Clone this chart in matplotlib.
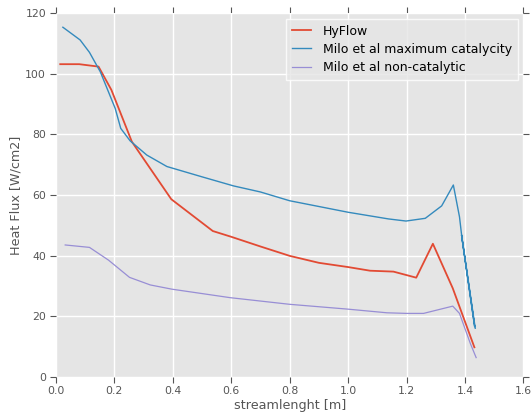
import matplotlib
matplotlib.use("Agg")
import matplotlib.pyplot as plt

# HyFlow heat flux along the streamline
hyflow_x = [0.015, 0.08, 0.146, 0.19, 0.26, 0.395, 0.537, 0.6, 0.7, 0.8, 0.9,
            1.0, 1.075, 1.155, 1.233, 1.29, 1.358, 1.432]
hyflow_q = [103.2, 103.2, 102.4, 94.7, 77.6, 58.6, 48.1, 46.2, 43.0, 39.9, 37.6,
            36.2, 35.0, 34.7, 32.7, 43.9, 29.2, 9.7]

# Milo et al, fully catalytic wall
milo_cat_x = [0.024, 0.083, 0.115, 0.152, 0.203, 0.222, 0.254, 0.311, 0.38,
              0.5, 0.608, 0.7, 0.8, 0.9, 1.0, 1.138, 1.198, 1.264, 1.32,
              1.36, 1.381, 1.389, 1.433, 1.388, 1.435]
milo_cat_q = [115.4, 111.2, 107.1, 100.7, 88.6, 82.0, 77.9, 73.2, 69.4,
              66.0, 63.0, 61.0, 58.1, 56.2, 54.3, 52.1, 51.4, 52.3, 56.4,
              63.3, 52.8, 46.2, 16.5, 46.8, 16.0]

# Milo et al, non-catalytic wall
milo_noncat_x = [0.032, 0.115, 0.18, 0.252, 0.323, 0.397, 0.596, 0.8, 1.0,
                 1.133, 1.2, 1.258, 1.358, 1.381, 1.418, 1.438]
milo_noncat_q = [43.5, 42.7, 38.5, 32.8, 30.3, 28.9, 26.1, 23.9, 22.3,
                 21.1, 20.9, 20.9, 23.3, 20.9, 11.0, 6.3]

plt.style.use('ggplot')

fig = plt.figure(figsize=(5.32, 4.16), dpi=100)
ax = fig.add_axes([0.105, 0.0945, 0.879, 0.8735])

ax.plot(hyflow_x, hyflow_q, color='#E24A33', lw=1.3, label='HyFlow')
ax.plot(milo_cat_x, milo_cat_q, color='#348ABD', lw=1.0,
        label='Milo et al maximum catalycity')
ax.plot(milo_noncat_x, milo_noncat_q, color='#988ED5', lw=0.9,
        label='Milo et al non-catalytic')

ax.set_xlim(0, 1.6)
ax.set_ylim(0, 120)
ax.grid(True, color='white', lw=1.0)
for s in ax.spines.values():
    s.set_visible(False)
ax.tick_params(axis='both', which='major', direction='out', labelsize=7.8,
               labelcolor='#555555', color='#555555', length=4, width=0.8,
               pad=3, top=True, right=True, bottom=True, left=True)

ax.set_xlabel('streamlenght [m]', fontsize=9.2, color='#555555', labelpad=2)
ax.set_ylabel('Heat Flux [W/cm2]', fontsize=9.2, color='#555555', labelpad=2)

leg = ax.legend(loc='upper right', fontsize=9, handlelength=1.5,
                handletextpad=1.0, borderpad=0.45, labelspacing=0.42,
                borderaxespad=0.45, fancybox=False)
leg.get_frame().set_facecolor('#E5E5E5')
leg.get_frame().set_edgecolor('white')
leg.get_frame().set_linewidth(1.0)

fig.savefig('out.png', dpi=100)
